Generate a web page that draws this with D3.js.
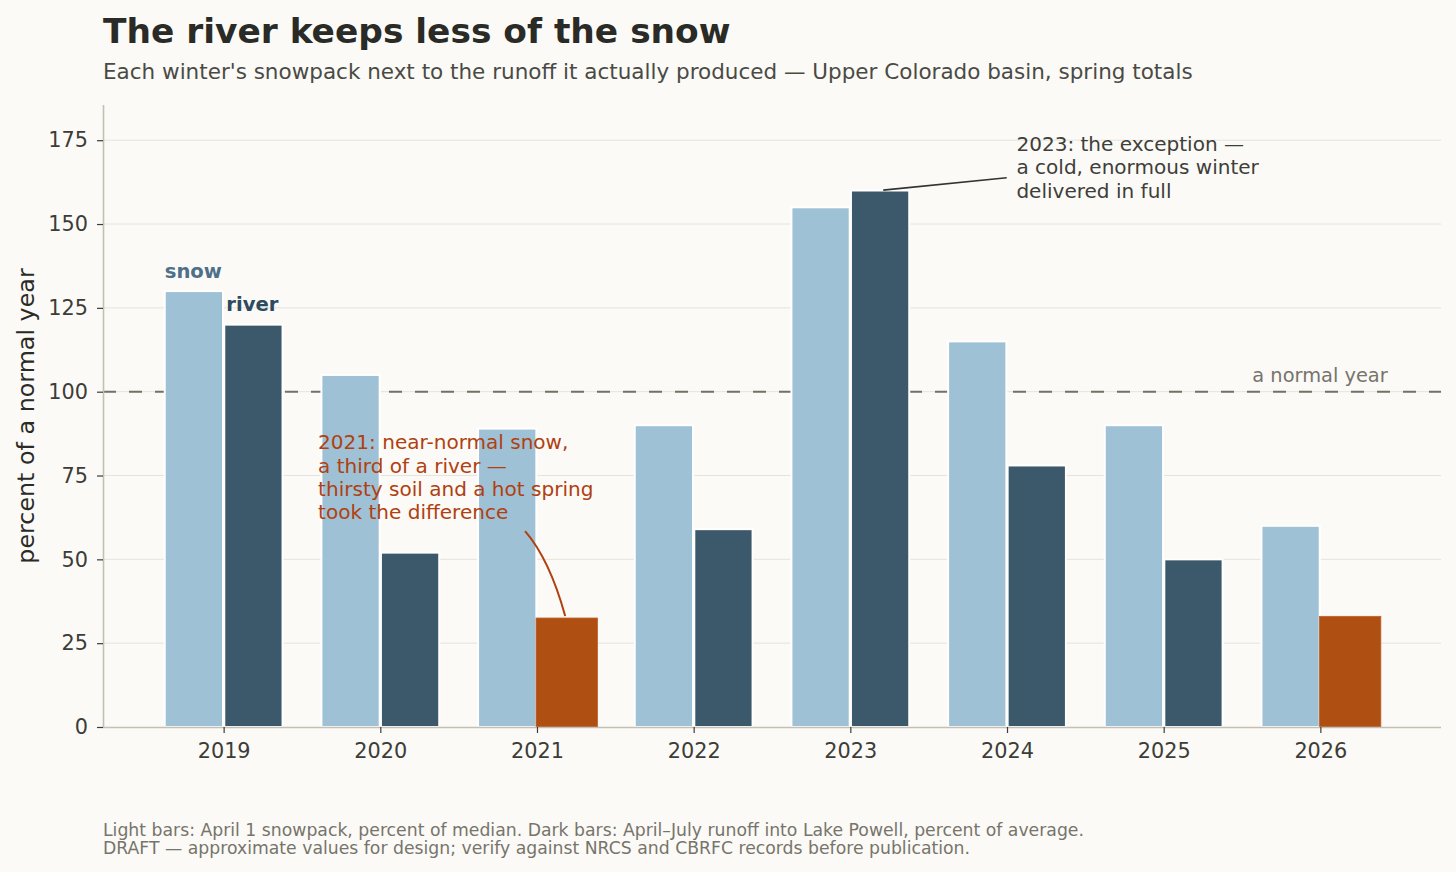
<!DOCTYPE html>
<html>
<head>
<meta charset="utf-8">
<script src="https://cdn.jsdelivr.net/npm/d3@7"></script>
<style>
  html, body { margin: 0; padding: 0; background: #fbfaf6; }
  svg { display: block; font-family: "DejaVu Sans", sans-serif; }
  .tick text { font-family: "DejaVu Sans", sans-serif; }
</style>
</head>
<body>
<div id="chart"></div>
<script>
// chart values
const years = ["2019", "2020", "2021", "2022", "2023", "2024", "2025", "2026"];
const snow = [130, 105, 89, 90, 155, 115, 90, 60];    // April 1 snowpack, % of median
const river = [120, 52, 32.5, 59, 160, 78, 50, 33];   // April-July runoff, % of average
const highlighted = ["2021", "2026"];                  // river bars drawn in orange
const yTicks = [0, 25, 50, 75, 100, 125, 150, 175];
const normalLevel = 100;

const width = 1456, height = 872;
const margin = ({ top: 105, right: 15, bottom: 145, left: 103 });

const colors = {
    bg: "#fbfaf6", snow: "#9fc1d5", river: "#3c586b", hot: "#b04f12",
    grid: "#e6e3dc", spine: "#c4c0b6", ink: "#2a2a26", text: "#3c3c38", muted: "#77746c"
};

const data = years.map((y, i) => ({ year: y, i: i, snow: snow[i], river: river[i], hot: highlighted.includes(y) }));

let svg = d3.select("#chart")
    .append("svg")
    .attr("width", width)
    .attr("height", height)
    .attr("viewBox", [0, 0, width, height]);

svg.append("rect").attr("width", width).attr("height", height).attr("fill", colors.bg);

// index scale so bars can sit either side of the year tick
let x = d3.scaleLinear()
    .domain([-0.77, years.length - 1 + 0.77])
    .range([margin.left, width - margin.right]);

let y = d3.scaleLinear()
    .domain([0, 185.5])
    .range([height - margin.bottom, margin.top]);

const unit = x(1) - x(0);
const off = 0.19, bw = 0.372, hotW = 0.392;

// grid
svg.append("g")
    .selectAll("line")
    .data(yTicks.slice(1))
    .join("line")
    .attr("x1", x.range()[0])
    .attr("x2", x.range()[1])
    .attr("y1", d => y(d))
    .attr("y2", d => y(d))
    .attr("stroke", colors.grid)
    .attr("stroke-width", 1);

// normal year reference
svg.append("line")
    .attr("x1", x.range()[0])
    .attr("x2", x.range()[1])
    .attr("y1", y(normalLevel))
    .attr("y2", y(normalLevel))
    .attr("stroke", "#747068")
    .attr("stroke-width", 1.9)
    .attr("stroke-dasharray", "13,13");

svg.append("text")
    .attr("x", x(7.43))
    .attr("y", y(normalLevel + 2.9))
    .attr("text-anchor", "end")
    .attr("font-size", 19.4)
    .attr("fill", colors.muted)
    .text("a normal year");

// bars
let bar = svg.selectAll(".bar")
    .data(data)
    .join("g")
    .attr("class", "bar");

bar.append("rect")
    .attr("x", d => x(d.i - off) - bw * unit / 2)
    .attr("width", bw * unit)
    .attr("y", d => y(d.snow))
    .attr("height", d => y(0) - y(d.snow))
    .attr("fill", colors.snow)
    .attr("stroke", "#ffffff")
    .attr("stroke-width", 2);

bar.append("rect")
    .attr("x", d => d.hot ? x(d.i + off) - hotW * unit / 2 : x(d.i + off) - bw * unit / 2)
    .attr("width", d => (d.hot ? hotW : bw) * unit)
    .attr("y", d => y(d.river))
    .attr("height", d => y(0) - y(d.river))
    .attr("fill", d => d.hot ? colors.hot : colors.river)
    .attr("stroke", d => d.hot ? "#c0602a" : "#ffffff")
    .attr("stroke-width", d => d.hot ? 0.8 : 2);

// axes
let yAxis = svg.append("g")
    .attr("transform", `translate(${margin.left},0)`)
    .call(d3.axisLeft(y).tickValues(yTicks).tickSize(6).tickPadding(9));

let xAxis = svg.append("g")
    .attr("transform", `translate(0,${height - margin.bottom})`)
    .call(d3.axisBottom(x).tickValues(d3.range(years.length)).tickFormat(i => years[i]).tickSize(6).tickPadding(10));

for (let ax of [yAxis, xAxis]) {
    ax.select(".domain").attr("stroke", colors.spine).attr("stroke-width", 1.6);
    ax.selectAll(".tick line").attr("stroke", colors.text).attr("stroke-width", 1.2);
    ax.selectAll(".tick text").attr("fill", colors.text).attr("font-size", 20.8);
}
xAxis.select(".domain").attr("d", `M${x.range()[0]},0.5H${x.range()[1]}`);
yAxis.select(".domain").attr("d", `M0.5,${y.range()[0]}V${y.range()[1]}`);

// series labels on the first pair
svg.append("text")
    .attr("x", x(0 - off) - bw * unit / 2)
    .attr("y", y(snow[0] + 4))
    .attr("font-size", 19.6)
    .attr("font-weight", "bold")
    .attr("fill", "#4e7089")
    .text("snow");

svg.append("text")
    .attr("x", x(0 + off) - bw * unit / 2 + 2)
    .attr("y", y(river[0] + 4))
    .attr("font-size", 19.6)
    .attr("font-weight", "bold")
    .attr("fill", "#2e4a60")
    .text("river");

// annotations
const lineH = 23.3;

function multiline(sel, lines, color) {
    sel.selectAll("tspan")
        .data(lines)
        .join("tspan")
        .attr("x", sel.attr("x"))
        .attr("dy", (d, i) => i === 0 ? 0 : lineH)
        .text(d => d);
    sel.attr("fill", color).attr("font-size", 20.05);
}

svg.append("text")
    .attr("x", x(0.603))
    .attr("y", y(82.8))
    .call(multiline, ["2021: near-normal snow,", "a third of a river \u2014", "thirsty soil and a hot spring", "took the difference"], "#b04010");

// curved pointer down to the 2021 river bar
const a0 = [x(1.924), y(58.4)], a1 = [x(2 + off - 0.01), y(river[2] + 0.6)];
const ctrl = [x(2.08), y(50)];
svg.append("path")
    .attr("d", `M${a0[0]},${a0[1]}Q${ctrl[0]},${ctrl[1]} ${a1[0]},${a1[1]}`)
    .attr("fill", "none")
    .attr("stroke", "#b04010")
    .attr("stroke-width", 2);

svg.append("text")
    .attr("x", x(5.06))
    .attr("y", y(171.8))
    .call(multiline, ["2023: the exception \u2014", "a cold, enormous winter", "delivered in full"], "#3e3e3a");

svg.append("line")
    .attr("x1", x(4.21))
    .attr("y1", y(river[4] + 0.1))
    .attr("x2", x(4.998))
    .attr("y2", y(163.8))
    .attr("stroke", "#33332f")
    .attr("stroke-width", 1.6);

// title block
svg.append("text")
    .attr("x", margin.left)
    .attr("y", 42.5)
    .attr("font-size", 34.4)
    .attr("font-weight", "bold")
    .attr("fill", colors.ink)
    .text("The river keeps less of the snow");

svg.append("text")
    .attr("x", margin.left)
    .attr("y", 79)
    .attr("font-size", 21.5)
    .attr("fill", "#4a4a45")
    .text("Each winter's snowpack next to the runoff it actually produced \u2014 Upper Colorado basin, spring totals");

svg.append("text")
    .attr("transform", `translate(34,${(y.range()[0] + y.range()[1]) / 2}) rotate(-90)`)
    .attr("text-anchor", "middle")
    .attr("font-size", 23.8)
    .attr("fill", colors.ink)
    .text("percent of a normal year");

// footer note
svg.append("text")
    .attr("x", margin.left)
    .attr("y", 836)
    .attr("font-size", 17.25)
    .attr("fill", colors.muted)
    .text("Light bars: April 1 snowpack, percent of median. Dark bars: April\u2013July runoff into Lake Powell, percent of average.");

svg.append("text")
    .attr("x", margin.left)
    .attr("y", 854)
    .attr("font-size", 17.25)
    .attr("fill", colors.muted)
    .text("DRAFT \u2014 approximate values for design; verify against NRCS and CBRFC records before publication.");
</script>
</body>
</html>
